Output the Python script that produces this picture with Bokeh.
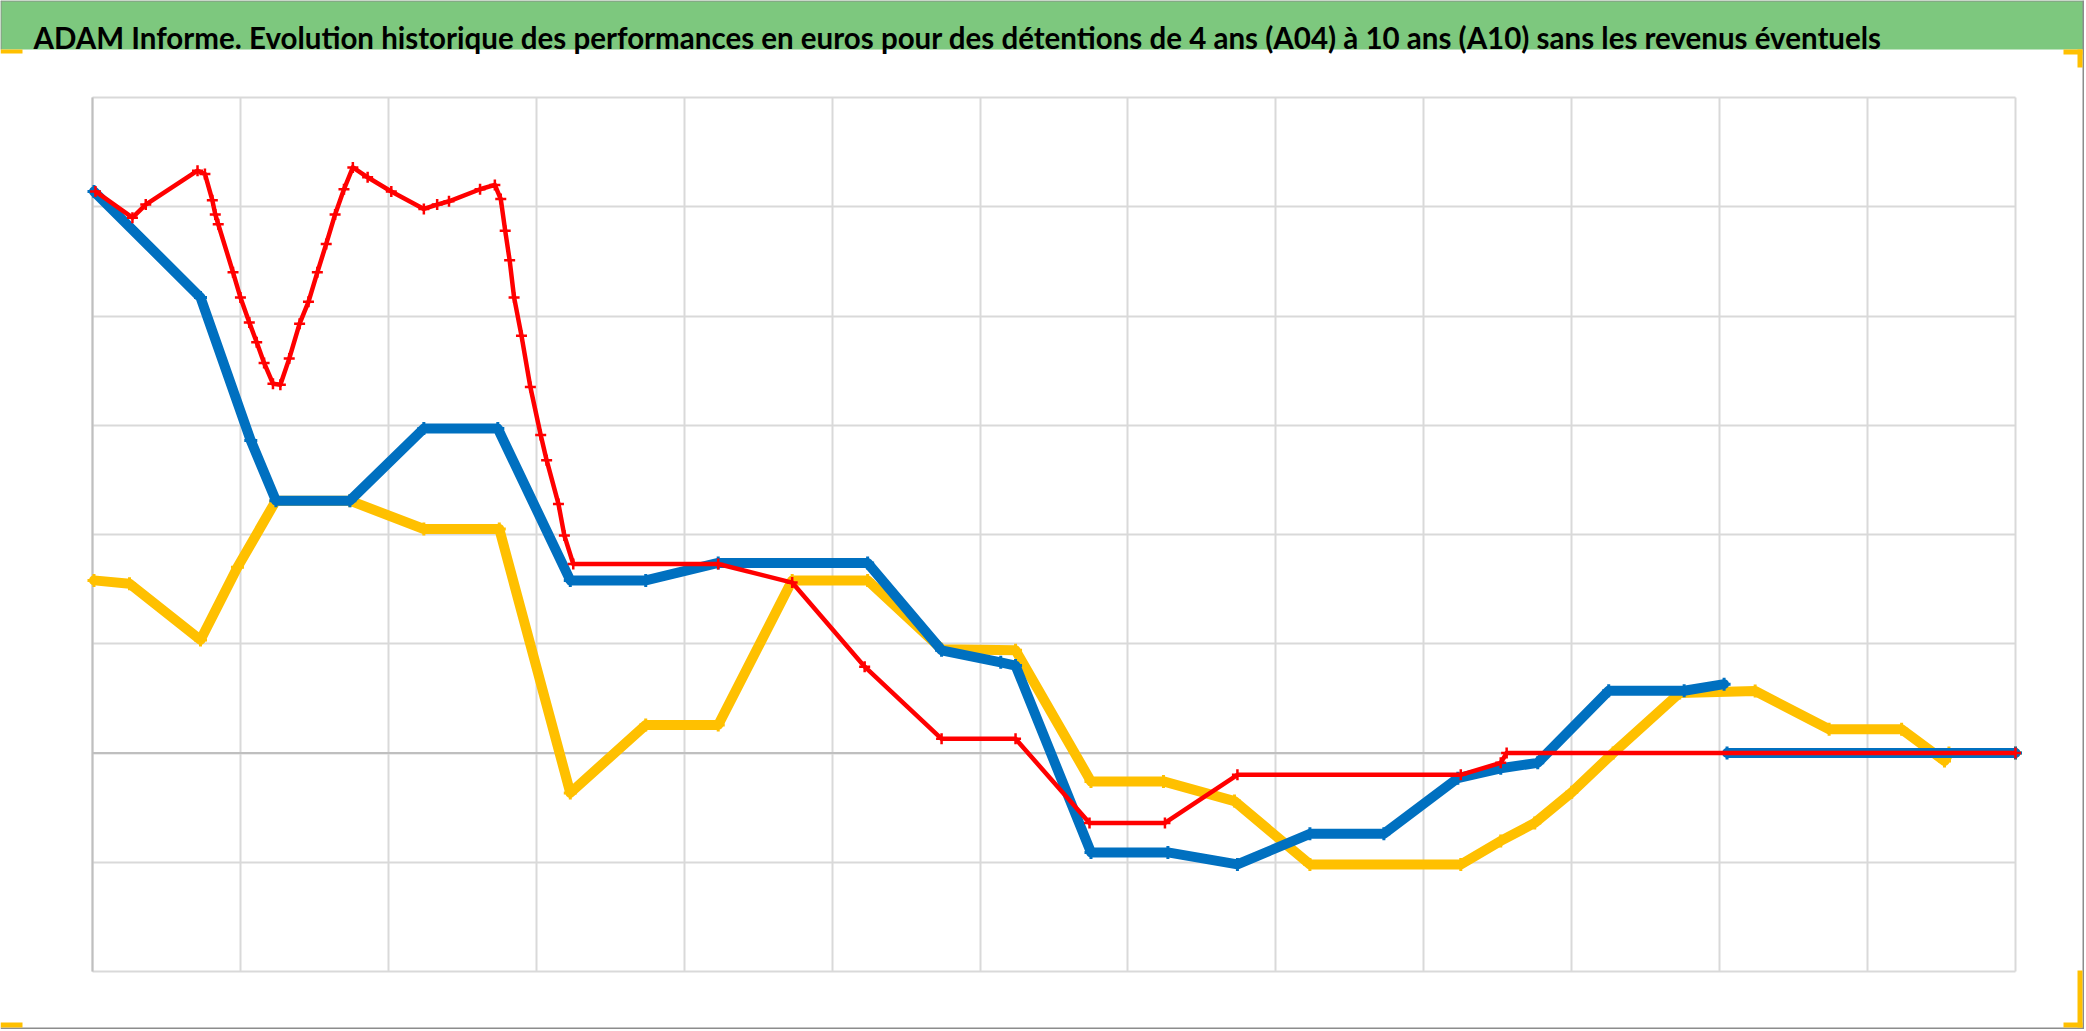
from bokeh.plotting import figure
from bokeh.models import Range1d, FixedTicker, Label, BoxAnnotation, Grid
from bokeh.embed import file_html
from bokeh.resources import INLINE

TITLE = ("ADAM Informe. Evolution historique des performances en euros pour des "
         "détentions de 4 ans (A04) à 10 ans (A10) sans les revenus éventuels")

NaN = float("nan")

# x in periods (13 gridded periods), y in arbitrary performance units (grid step 10)
x_ticks = list(range(0, 14))
y_ticks = list(range(-20, 61, 10))

yellow_x = [0.01, 0.25, 0.73, 0.98, 1.24, 1.74, 2.24, 2.75, 3.23, 3.74, 4.23, 4.73, 5.24,
            5.74, 6.24, 6.75, 7.24, 7.72, 8.23, 9.25, 9.52, 9.75, 10.0, 10.28, 10.73,
            11.24, 11.74, 12.23, 12.52, 12.55, 13.0]
yellow_y = [15.8, 15.5, 10.35, 17.0, 23.1, 23.1, 20.5, 20.5, -3.65, 2.56, 2.56, 15.8, 15.8,
            9.5, 9.4, -2.6, -2.6, -4.4, -10.2, -10.2, -8.05, -6.4, -3.6, 0.0, 5.5,
            5.67, 2.17, 2.17, -0.73, 0.0, 0.0]

blue_x = [0.01, 0.73, 1.07, 1.24, 1.74, 2.24, 2.74, 3.23, 3.74, 4.23, 5.24, 5.74, 6.14,
          6.24, 6.75, 7.27, 7.74, 8.23, 8.73, 9.23, 9.52, 9.77, 10.25, 10.76, 11.03,
          NaN, 11.05, 13.0]
blue_y = [51.4, 41.7, 28.6, 23.1, 23.1, 29.7, 29.7, 15.8, 15.8, 17.4, 17.4, 9.4, 8.3,
          8.0, -9.1, -9.1, -10.2, -7.4, -7.4, -2.3, -1.4, -0.9, 5.7, 5.7, 6.3,
          NaN, 0.0, 0.0]

red_x = [0.02, 0.27, 0.36, 0.71, 0.76, 0.81, 0.83, 0.85, 0.95, 1.0, 1.06, 1.11, 1.16,
         1.22, 1.27, 1.33, 1.40, 1.46, 1.52, 1.58, 1.64, 1.70, 1.76, 1.86, 2.02, 2.24,
         2.33, 2.41, 2.62, 2.72, 2.76, 2.79, 2.82, 2.85, 2.90, 2.96, 3.03, 3.07, 3.15,
         3.19, 3.25, 4.23, 4.73, 5.22, 5.74, 6.24, 6.74, 7.25, 7.74, 9.25, 9.52, 9.56, 13.0]
red_y = [51.4, 49.0, 50.2, 53.3, 53.0, 50.6, 49.3, 48.4, 44.0, 41.7, 39.4, 37.6, 35.7,
         33.8, 33.7, 36.1, 39.3, 41.3, 44.0, 46.6, 49.3, 51.6, 53.6, 52.7, 51.4, 49.8,
         50.2, 50.5, 51.6, 52.0, 50.7, 47.8, 45.1, 41.7, 38.2, 33.5, 29.1, 26.8, 22.8,
         19.9, 17.3, 17.3, 15.6, 7.9, 1.3, 1.3, -6.4, -6.4, -2.0, -2.0, -0.9, 0.0, 0.0]

GREEN = "#7DC87E"
YELLOW = "#FFC000"
BLUE = "#0070C0"
RED = "#FF0000"
GRID = "#D9D9D9"
AXIS = "#BFBFBF"
HANDLE = "#FFC000"
BORDER = "#8C8C8C"

# ---- layout geometry (pixels) ----
W, H = 2084, 1029                   # canvas
FL, FR, FT, FB = 92, 2015, 97, 971  # plot area inside canvas
BANNER_H = 49
X0, X1 = x_ticks[0], x_ticks[-1]
Y0, Y1 = y_ticks[0], y_ticks[-1]
kx = (FR - FL) / (X1 - X0)
ky = (FB - FT) / (Y1 - Y0)


def px_x(px):
    return X0 + (px - FL) / kx


def px_y(py):
    return Y1 - (py - FT) / ky


def px_box(l, t, r, b, color):
    return BoxAnnotation(left=px_x(l), right=px_x(r), top=px_y(t), bottom=px_y(b),
                         fill_color=color, fill_alpha=1.0, line_color=None)


p = figure(width=W, height=H,
           x_range=Range1d(px_x(0), px_x(W)), y_range=Range1d(px_y(H), px_y(0)),
           toolbar_location=None, output_backend="svg", min_border=0)
p.outline_line_color = None
p.background_fill_color = "white"
p.border_fill_color = "white"

p.xaxis.ticker = FixedTicker(ticks=x_ticks)
p.yaxis.ticker = FixedTicker(ticks=y_ticks)
p.xaxis.visible = False
p.yaxis.visible = False
p.xgrid.grid_line_color = GRID
p.xgrid.grid_line_width = 2
p.ygrid.grid_line_color = GRID
p.ygrid.grid_line_width = 2

if "cross_bounds" in Grid.properties():
    p.xgrid.ticker = FixedTicker(ticks=x_ticks)
    p.ygrid.ticker = FixedTicker(ticks=y_ticks)
    p.xgrid.cross_bounds = (Y0, Y1)
    p.ygrid.cross_bounds = (X0, X1)
else:
    p.grid.visible = False
    p.segment(x0=x_ticks, y0=[Y0] * len(x_ticks), x1=x_ticks, y1=[Y1] * len(x_ticks),
              line_color=GRID, line_width=2, level="underlay")
    p.segment(x0=[X0] * len(y_ticks), y0=y_ticks, x1=[X1] * len(y_ticks), y1=y_ticks,
              line_color=GRID, line_width=2, level="underlay")

# axis lines: horizontal at 0 and vertical at the first period
p.segment(x0=[X0], y0=[0], x1=[X1], y1=[0], line_color=AXIS, line_width=2)
p.segment(x0=[X0], y0=[Y0], x1=[X0], y1=[Y1], line_color=AXIS, line_width=2)

# series
p.line(yellow_x, yellow_y, line_color=YELLOW, line_width=10, line_join="round", line_cap="round")
p.scatter(yellow_x, yellow_y, marker="cross", size=13, line_color=YELLOW, line_width=3)

p.line(blue_x, blue_y, line_color=BLUE, line_width=10, line_join="round", line_cap="round")
p.scatter(blue_x, blue_y, marker="cross", size=13, line_color=BLUE, line_width=3)

p.line(red_x, red_y, line_color=RED, line_width=4.5, line_join="round")
p.scatter(red_x, red_y, marker="cross", size=11, line_color=RED, line_width=2.5)

# title banner
p.add_layout(BoxAnnotation(bottom=px_y(BANNER_H), fill_color=GREEN, fill_alpha=1.0,
                           line_color=None))
p.add_layout(Label(x=px_x(33), y=px_y(37), text=TITLE, text_font="Lato",
                   text_font_style="bold", text_font_size="29.5px", text_color="black",
                   text_baseline="alphabetic"))

# chart-area frame border and corner selection handles
p.add_layout(px_box(0, 0, W, 1, BORDER))
p.add_layout(px_box(0, 0, 1, BANNER_H, BORDER))
p.add_layout(px_box(W - 2, 0, W, H, BORDER))
p.add_layout(px_box(0, H - 2, W, H, BORDER))
p.add_layout(px_box(0, 49, 22, 53, HANDLE))
p.add_layout(px_box(2063, 49, 2082, 54, HANDLE))
p.add_layout(px_box(2077, 49, 2082, 67, HANDLE))
p.add_layout(px_box(2077, 970, 2082, 1027, HANDLE))
p.add_layout(px_box(2063, 1022, 2082, 1027, HANDLE))
p.add_layout(px_box(0, 1022, 22, 1027, HANDLE))

open("out.html", "w").write(file_html(p, INLINE))
